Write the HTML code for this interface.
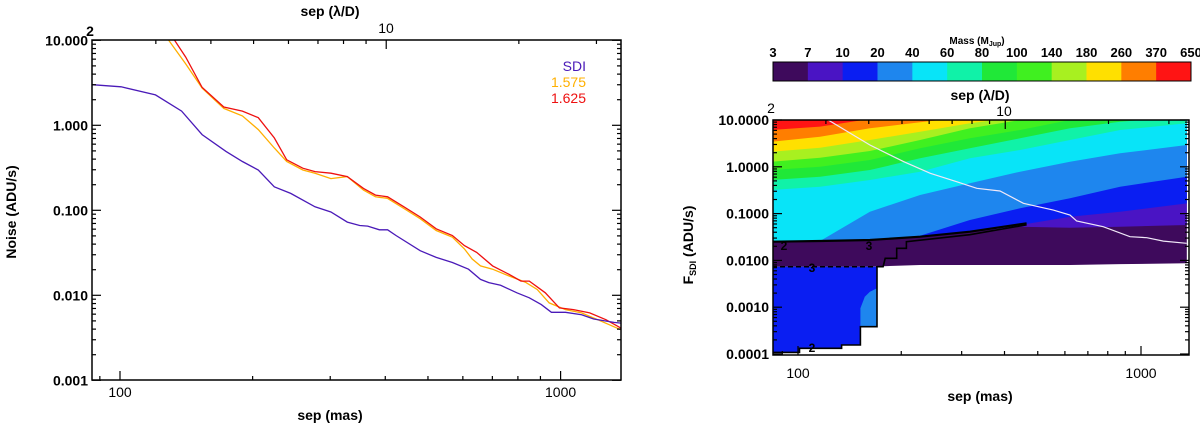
<!DOCTYPE html>
<html><head><meta charset="utf-8"><style>
html,body{margin:0;padding:0;background:#fff;}
svg{display:block;font-family:"Liberation Sans",sans-serif;}
</style></head><body>
<svg id="fig" width="1200" height="427" viewBox="0 0 1200 427" xmlns="http://www.w3.org/2000/svg"></svg>
<script>
// ---------- LEFT CHART DATA ----------
const sdiSep = [86.5,100.6,120.4,138,153.6,174,189.6,206,224,244,277,301,328,350,365,388,405,423,480,522,568,618,658,687,731,796,849,904,953,1026,1116,1189,1321,1371];
const sdiNoise = [3.0,2.84,2.28,1.47,0.778,0.493,0.375,0.298,0.189,0.158,0.110,0.0955,0.0726,0.0663,0.0651,0.0589,0.0589,0.0505,0.0335,0.0279,0.0243,0.0203,0.0154,0.0141,0.0131,0.0107,0.00934,0.00778,0.00631,0.00631,0.00592,0.00526,0.00480,0.00471];
const redSep = [133,141,153.6,172,189.6,206,224,239,260,277,301,328,357,380,405,441,480,522,568,605,645,701,763,813,849,923,994,1070,1164,1267,1371];
const redNoise = [10,6.34,2.79,1.64,1.47,1.23,0.710,0.393,0.313,0.285,0.273,0.249,0.181,0.151,0.144,0.110,0.0834,0.0606,0.0505,0.0384,0.0320,0.0222,0.0177,0.0147,0.0147,0.0107,0.00710,0.00679,0.00620,0.00516,0.00411];
const orgSep = [129,141,153.6,172,189.6,206,224,239,260,277,301,328,357,380,405,441,480,522,568,605,630,658,701,763,831,885,942,1026,1116,1214,1371];
const orgNoise = [10,5.28,2.74,1.58,1.29,0.891,0.541,0.375,0.298,0.273,0.236,0.249,0.173,0.144,0.138,0.105,0.0796,0.0578,0.0482,0.0351,0.0267,0.0222,0.0203,0.0169,0.0143,0.0117,0.00815,0.00679,0.00620,0.00516,0.00393];
const leftYTicks = ["10.000","1.000","0.100","0.010","0.001"];
const leftYTickVals = [10,1,0.1,0.01,0.001];
const xTickLabels = ["100","1000"];
const xTickVals = [100,1000];
const legendLabels = ["SDI","1.575","1.625"];

// ---------- RIGHT CHART DATA ----------
const massLevels = ["3","7","10","20","40","60","80","100","140","180","260","370","650"];
const massColors = ["#3e0a5c","#4a14c4","#0a1ef2","#1e86ee","#08e4f8","#10f2a8","#20e838","#40f020","#a8f020","#ffe000","#ff7e00","#ff1414"];
const bandSep = [84,116,162,227,317,444,621,869,1360];
const bBase = [-2.134,-2.134,-2.134,-2.098,-2.098,-2.098,-2.098,-2.08,-2.063];
const b7 = [-1.600,-1.586,-1.564,-1.493,-1.386,-1.279,-1.301,-1.279,-1.244];
const b10 = [-1.600,-1.586,-1.564,-1.493,-1.386,-1.244,-1.066,-0.959,-0.781];
const b20 = [-1.600,-1.586,-1.564,-1.472,-1.137,-0.887,-0.674,-0.425,-0.211];
const b40 = [-1.600,-1.586,-0.959,-0.603,-0.353,-0.104,0.110,0.288,0.466];
const b60 = [-0.496,-0.425,-0.282,-0.104,0.181,0.359,0.573,0.786,0.929];
const b80 = [-0.282,-0.211,-0.068,0.181,0.395,0.608,0.822,0.964,1.071];
const b100 = [-0.068,0.003,0.145,0.395,0.608,0.786,1.0,1.142,1.249];
const b140 = [0.110,0.195,0.338,0.573,0.822,1.0,1.178,1.32,1.39];
const b180 = [0.323,0.409,0.573,0.751,0.929,1.071,1.249,1.39,1.46];
const b260 = [0.537,0.644,0.822,0.950,1.071,1.214,1.39,1.46,1.46];
const b370 = [0.786,0.858,1.021,1.178,1.32,1.46,1.46,1.46,1.46];
const noiseSep = [122.5,162,203,243,290,332,388,454,555,621,649,776,929,1040,1162,1359];
const noiseF = [10,2.93,1.29,0.725,0.481,0.347,0.304,0.166,0.119,0.0933,0.0695,0.0526,0.0321,0.0306,0.0259,0.0232];
const rightYTicks = ["10.0000","1.0000","0.1000","0.0100","0.0010","0.0001"];
const rightYTickVals = [10,1,0.1,0.01,0.001,0.0001];

// ---------- AXES ----------
const NS="http://www.w3.org/2000/svg";
const svg=document.getElementById('fig');
function el(tag,attrs,parent){const e=document.createElementNS(NS,tag);for(const k in attrs)e.setAttribute(k,attrs[k]);(parent||svg).appendChild(e);return e;}
const L={x0:92,x1:621,y0:40,y1:380};
const lx=s=>120+440.6*(Math.log10(s)-2);
const ly=v=>40.3+85*(1-Math.log10(v));
const R={x0:773,x1:1189,y0:120,y1:355};
const rx=s=>798+343*(Math.log10(s)-2);
const ryl=l=>120+46.8*(1-l);
const ry=v=>ryl(Math.log10(v));

function logTicks(g,P,fx,fy,ymin,ymax,xs,top){
  for(let d=ymin;d<ymax;d++){for(let m=1;m<10;m++){const v=m*Math.pow(10,d);const y=fy(v);if(y<P.y0-0.5||y>P.y1+0.5)continue;const len=m===1?9:4;
    el('line',{x1:P.x0,y1:y,x2:P.x0+len,y2:y,stroke:'#000','stroke-width':1.2},g);
    el('line',{x1:P.x1,y1:y,x2:P.x1-len,y2:y,stroke:'#000','stroke-width':1.2},g);}}
  const yt=fy(Math.pow(10,ymax));el('line',{x1:P.x0,y1:yt,x2:P.x0+9,y2:yt,stroke:'#000','stroke-width':1.2},g);el('line',{x1:P.x1,y1:yt,x2:P.x1-9,y2:yt,stroke:'#000','stroke-width':1.2},g);
  for(const s of xs){const x=fx(s);if(x<P.x0||x>P.x1)continue;const len=(s===100||s===1000)?9:4;
    el('line',{x1:x,y1:P.y1,x2:x,y2:P.y1-len,stroke:'#000','stroke-width':1.2},g);}
  for(const t of top){const x=fx(t*40.2);if(x<P.x0||x>P.x1)continue;const len=t===10?9:4;
    el('line',{x1:x,y1:P.y0,x2:x,y2:P.y0+len,stroke:'#000','stroke-width':1.2},g);}
}
const xsMinor=[90,100,200,300,400,500,600,700,800,900,1000];
const topLD=[3,4,5,6,7,8,9,10,20,30];
function txt(s,attrs,parent,name){const t=el('text',attrs,parent);t.textContent=s;return t;}

// ---------- LEFT CHART ----------
const gL=el('g',{});


el('defs',{}).innerHTML='<clipPath id="cl"><rect x="92" y="40" width="529" height="340"/></clipPath><clipPath id="cr"><rect x="773" y="120" width="416" height="235"/></clipPath>';
function line(xs,ys,fx,fy,color,name,parent,clip,w){
  const p=el('polyline',{points:xs.map((s,i)=>fx(s).toFixed(1)+','+fy(ys[i]).toFixed(1)).join(' '),fill:'none',stroke:color,'stroke-width':w||1.3,'clip-path':clip},parent);
  
  
  return p;}
line(orgSep,orgNoise,lx,ly,'#ffae00','line-1575',gL,'url(#cl)');
line(redSep,redNoise,lx,ly,'#ee1010','line-1625',gL,'url(#cl)');
line(sdiSep,sdiNoise,lx,ly,'#4a1ab8','line-sdi',gL,'url(#cl)');
const fl=el('rect',{x:L.x0,y:L.y0,width:L.x1-L.x0,height:L.y1-L.y0,fill:'none',stroke:'#000','stroke-width':1.5},gL);


logTicks(gL,L,lx,ly,-3,1,xsMinor,topLD);
leftYTicks.forEach((t,i)=>txt(t,{x:88,y:ly(leftYTickVals[i])+5,'text-anchor':'end','font-size':14,'font-weight':'bold'},gL,'y-tick-label'));
xTickLabels.forEach((t,i)=>txt(t,{x:lx(xTickVals[i]),y:397,'text-anchor':'middle','font-size':14},gL,'x-tick-label'));
txt('sep (mas)',{x:330,y:420,'text-anchor':'middle','font-size':14,'font-weight':'bold'},gL,'x-axis-title');
txt('sep (λ/D)',{x:330,y:16,'text-anchor':'middle','font-size':14,'font-weight':'bold'},gL,'top-axis-title');
txt('2',{x:90,y:36,'text-anchor':'middle','font-size':14,'font-weight':'bold'},gL,'top-tick-label');
txt('10',{x:386,y:33,'text-anchor':'middle','font-size':14},gL,'top-tick-label');
txt('Noise (ADU/s)',{x:0,y:0,'text-anchor':'middle','font-size':14,'font-weight':'bold',transform:'translate(16,212) rotate(-90)'},gL,'y-axis-title');
const legCols=['#4a1ab8','#ffb000','#ee1010'];
legendLabels.forEach((t,i)=>txt(t,{x:586,y:71+i*16,'text-anchor':'end','font-size':14,fill:legCols[i]},gL,'legend-entry'));

// ---------- RIGHT CHART ----------
const gR=el('g',{});


const gC=el('g',{'clip-path':'url(#cr)'},gR);
function band(arr,color,name){
  let pts=bandSep.map((s,i)=>rx(s).toFixed(1)+','+ryl(arr[i]).toFixed(1));
  pts.push(rx(bandSep[bandSep.length-1])+',100');pts.push(rx(bandSep[0])+',100');
  const p=el('polygon',{points:pts.join(' '),fill:color},gC);
  
  }
const bands=[bBase,b7,b10,b20,b40,b60,b80,b100,b140,b180,b260,b370];
bands.forEach((b,i)=>band(b,massColors[i],'mass-band-'+massLevels[i]));
function poly(sepArr,lfArr,attrs,name,parent){
  const a=Object.assign({points:sepArr.map((s,i)=>rx(s).toFixed(1)+','+ryl(lfArr[i]).toFixed(1)).join(' ')},attrs);
  const p=el(attrs.fill==='none'?'polyline':'polygon',a,parent||gC);
  
  return p;}
const blueSep=[84,84,170,170,152,152,134,134,101,101,84];
const blueLf=[-4.1,-2.134,-2.134,-3.416,-3.416,-3.808,-3.808,-3.879,-3.879,-3.965,-3.965];
poly(blueSep,blueLf,{fill:massColors[2]},'low-blue-region');
poly([162,170,170,152,152,156.6],[-2.668,-2.597,-3.416,-3.416,-3.024,-2.775],{fill:massColors[3]},'low-medblue-region');
poly([84,116,162,227,317,464],[-1.60,-1.586,-1.564,-1.493,-1.386,-1.208],{fill:'none',stroke:'#000','stroke-width':2.2},'contour-2');
poly([170,177,179.6,194,194,207,207,317,464],[-2.134,-2.134,-1.956,-1.956,-1.742,-1.742,-1.6,-1.45,-1.24],{fill:'none',stroke:'#000','stroke-width':1.6},'contour-3');
poly([84,170],[-2.134,-2.134],{fill:'none',stroke:'#000','stroke-width':1.5,'stroke-dasharray':'5,3'},'contour-3-dashed');
poly([84,101,101,134,134,152,152,170,170],[-3.965,-3.965,-3.879,-3.879,-3.808,-3.808,-3.416,-3.416,-2.134],{fill:'none',stroke:'#000','stroke-width':1.6},'contour-2-low');
line(noiseSep,noiseF,rx,ry,'#f0e8f8','noise-curve',gR,'url(#cr)',1.2);
txt('2',{x:784,y:250,'text-anchor':'middle','font-size':12,'font-weight':'bold'},gR,'contour-label');
txt('3',{x:869,y:250,'text-anchor':'middle','font-size':12,'font-weight':'bold'},gR,'contour-label');
txt('3',{x:812,y:272,'text-anchor':'middle','font-size':12,'font-weight':'bold'},gR,'contour-label');
txt('2',{x:812,y:352,'text-anchor':'middle','font-size':12,'font-weight':'bold'},gR,'contour-label');
const fr=el('rect',{x:R.x0,y:R.y0,width:R.x1-R.x0,height:R.y1-R.y0,fill:'none',stroke:'#000','stroke-width':1.5},gR);


logTicks(gR,R,rx,ry,-4,1,xsMinor,topLD);
rightYTicks.forEach((t,i)=>txt(t,{x:769,y:ry(rightYTickVals[i])+5,'text-anchor':'end','font-size':14,'font-weight':'bold'},gR,'y-tick-label'));
xTickLabels.forEach((t,i)=>txt(t,{x:rx(xTickVals[i]),y:378,'text-anchor':'middle','font-size':14},gR,'x-tick-label'));
txt('sep (mas)',{x:980,y:401,'text-anchor':'middle','font-size':14,'font-weight':'bold'},gR,'x-axis-title');
txt('sep (λ/D)',{x:980,y:100,'text-anchor':'middle','font-size':14,'font-weight':'bold'},gR,'top-axis-title');
txt('2',{x:771,y:113,'text-anchor':'middle','font-size':14},gR,'top-tick-label');
txt('10',{x:1004,y:116,'text-anchor':'middle','font-size':14},gR,'top-tick-label');
const yt=el('text',{x:0,y:0,'text-anchor':'middle','font-size':14,'font-weight':'bold',transform:'translate(693,245) rotate(-90)'},gR);
yt.innerHTML='F<tspan font-size="9" dy="3">SDI</tspan><tspan dy="-3"> (ADU/s)</tspan>';



// ---------- COLORBAR ----------
const gB=el('g',{});


const cbX0=773,cbX1=1191,cbW=(cbX1-cbX0)/massColors.length;
massColors.forEach((c,i)=>{const r=el('rect',{x:cbX0+i*cbW,y:62,width:cbW+0.5,height:19,fill:c},gB);
  
  });
el('rect',{x:cbX0,y:62,width:cbX1-cbX0,height:19,fill:'none',stroke:'#000','stroke-width':1},gB);
massLevels.forEach((m,i)=>txt(m,{x:cbX0+i*cbW,y:57,'text-anchor':'middle','font-size':13,'font-weight':'bold'},gB,'colorbar-tick-label'));
const mt=el('text',{x:977,y:44,'text-anchor':'middle','font-size':10,'font-weight':'bold'},gB);
mt.innerHTML='Mass (M<tspan font-size="7" dy="2">Jup</tspan><tspan dy="-2">)</tspan>';


</script>
</body></html>
